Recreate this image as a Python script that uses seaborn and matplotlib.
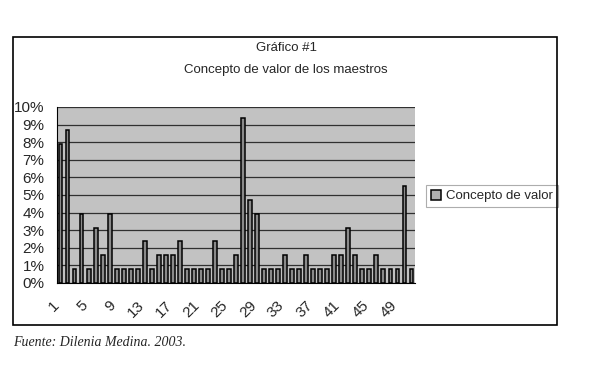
import pandas as pd
import seaborn as sns
import matplotlib.pyplot as plt
from matplotlib.patches import Rectangle
from matplotlib.ticker import FuncFormatter
from matplotlib.transforms import ScaledTranslation

# categories 1..51 and the share (%)
categorias = [str(i) for i in range(1, 52)]
porcentajes = [7.9, 8.7, 0.8, 3.9, 0.8, 3.1, 1.6, 3.9, 0.8, 0.8,
               0.8, 0.8, 2.4, 0.8, 1.6, 1.6, 1.6, 2.4, 0.8, 0.8,
               0.8, 0.8, 2.4, 0.8, 0.8, 1.6, 9.4, 4.7, 3.9, 0.8,
               0.8, 0.8, 1.6, 0.8, 0.8, 1.6, 0.8, 0.8, 0.8, 1.6,
               1.6, 3.1, 1.6, 0.8, 0.8, 1.6, 0.8, 0.8, 0.8, 5.5,
               0.8]
serie = "Concepto de valor"

df = pd.DataFrame({"cat": categorias, "valor": porcentajes, "serie": serie})

sns.set_style("white")
plt.rcParams["font.family"] = ["Liberation Sans", "DejaVu Sans"]

fig = plt.figure(figsize=(6, 3.78), dpi=100)
ax = fig.add_axes([57 / 600, 1 - 283 / 378, (415 - 57) / 600, (283 - 107) / 378])
ax.set_facecolor("#c2c2c2")

sns.barplot(data=df, x="cat", y="valor", hue="serie", order=categorias,
            palette=["#8a8a8a"], edgecolor="black", linewidth=1.1,
            width=0.55, dodge=False, ax=ax, legend=True)

ax.set_xlim(-0.5, len(categorias) - 0.5)
ax.set_ylim(0, 10)
ax.set_yticks(range(0, 11))
ax.yaxis.set_major_formatter(FuncFormatter(lambda v, p: f"{int(v)}%"))
ax.yaxis.grid(True, color="#303030", linewidth=0.9)
ax.set_axisbelow(True)

ax.set_xticks(range(0, len(categorias), 4))
ax.set_xticks([i + 0.5 for i in range(-1, len(categorias))], minor=True)
ax.tick_params(axis="x", which="major", length=0, pad=11)
ax.tick_params(axis="x", which="minor", length=3, color="black", width=0.7)
ax.tick_params(axis="y", length=3, color="black", width=0.7, labelsize=11, pad=6)
ax.set_xticklabels(categorias[::4], rotation=45, ha="right",
                   rotation_mode="anchor", fontsize=11)
# rotated labels sit a bit left of their category, like in the original
shift = ScaledTranslation(-8 / 100, 0, fig.dpi_scale_trans)
for lbl in ax.get_xticklabels():
    lbl.set_transform(lbl.get_transform() + shift)
ax.set_xlabel("")
ax.set_ylabel("")

for s in ["top", "right"]:
    ax.spines[s].set_visible(False)
for s in ["left", "bottom"]:
    ax.spines[s].set_color("black")
    ax.spines[s].set_linewidth(0.8)

leg = ax.legend(loc="center left", bbox_to_anchor=(426 / 600, 1 - 196 / 378),
                bbox_transform=fig.transFigure, frameon=True, fontsize=9.5,
                fancybox=False, handlelength=0.8, handleheight=0.8,
                handletextpad=0.4, borderpad=0.35, borderaxespad=0)
leg.get_frame().set_edgecolor("#999999")
leg.get_frame().set_linewidth(0.8)
for h in leg.get_patches():
    h.set_facecolor("#b0b0b0")

fig.text(286 / 600, 1 - 48 / 378, "Gráfico #1", ha="center", va="center", fontsize=9.5)
fig.text(286 / 600, 1 - 70 / 378, "Concepto de valor de los maestros",
         ha="center", va="center", fontsize=9.5)

fig.patches.append(Rectangle((13 / 600, 1 - 325 / 378), (557 - 13) / 600, (325 - 37) / 378,
                             transform=fig.transFigure, fill=False,
                             edgecolor="black", linewidth=1.2))

fig.text(13 / 600, 1 - 343 / 378, "Fuente: Dilenia Medina. 2003.", ha="left", va="center",
         fontsize=10, style="italic", family=["Liberation Serif", "DejaVu Serif"])

fig.savefig("out.png", dpi=100)
